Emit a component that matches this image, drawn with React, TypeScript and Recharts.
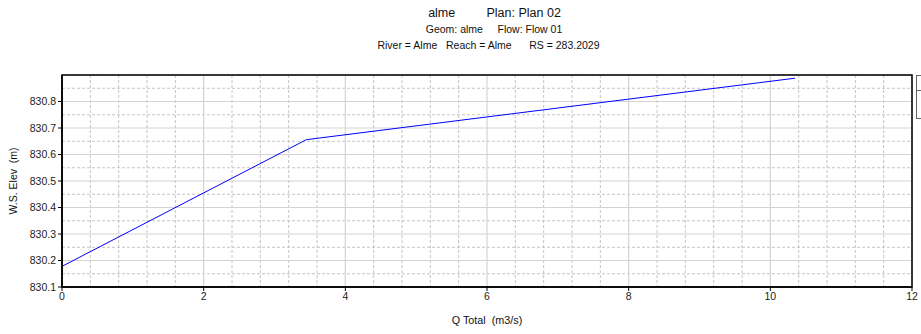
import React from 'react';
import { LineChart, Line, XAxis, YAxis, CartesianGrid, ReferenceArea } from 'recharts';

// profile values
const qTotal = [0, 3.45, 10.35];
const wsElev = [830.178, 830.656, 830.888];

const xTicks = [0, 2, 4, 6, 8, 10, 12];
const xMinorTicks = [0.4, 0.8, 1.2, 1.6, 2.4, 2.8, 3.2, 3.6, 4.4, 4.8, 5.2, 5.6, 6.4, 6.8, 7.2, 7.6, 8.4, 8.8, 9.2, 9.6, 10.4, 10.8, 11.2, 11.6];
const yTicks = [830.1, 830.2, 830.3, 830.4, 830.5, 830.6, 830.7, 830.8];
const yMinorTicks = [830.15, 830.25, 830.35, 830.45, 830.55, 830.65, 830.75, 830.85];

const data = qTotal.map((q, i) => ({ q, ws: wsElev[i] }));

const font = '"Liberation Sans", Arial, sans-serif';
const tickStyle = { fill: '#222', fontSize: 10.5, fontFamily: font };
const blank = () => '';

export default function App() {
  return (
    <div style={{ position: 'absolute', left: 0, top: 0, width: 921, height: 334, background: '#fff', fontFamily: font, color: '#111', overflow: 'hidden' }}>
      <div style={{ position: 'absolute', top: 6, left: 0, width: 989, textAlign: 'center', fontSize: 12.5, whiteSpace: 'pre' }}>
        {'alme         Plan: Plan 02'}
      </div>
      <div style={{ position: 'absolute', top: 23, left: 0, width: 988, textAlign: 'center', fontSize: 10.5, whiteSpace: 'pre' }}>
        {'Geom: alme     Flow: Flow 01'}
      </div>
      <div style={{ position: 'absolute', top: 39, left: 0, width: 977, textAlign: 'center', fontSize: 10.5, whiteSpace: 'pre' }}>
        {'River = Alme   Reach = Alme      RS = 283.2029'}
      </div>

      <LineChart width={921} height={334} data={data} margin={{ top: 75, right: 9, bottom: 0, left: 0 }} style={{ position: 'absolute', left: 0, top: 0 }}>
        <CartesianGrid xAxisId="minor" yAxisId="minor" stroke="#c4c4c4" strokeDasharray="3 2" />
        <CartesianGrid stroke="#d4d4d4" strokeWidth={1.2} />
        <XAxis xAxisId="minor" type="number" dataKey="q" domain={[0, 12]} ticks={xMinorTicks} height={0} axisLine={false} tickSize={4} tickLine={{ stroke: '#000' }} tickFormatter={blank} allowDataOverflow />
        <YAxis yAxisId="minor" type="number" domain={[830.1, 830.9]} ticks={yMinorTicks} width={0} axisLine={false} tickSize={4} tickLine={{ stroke: '#000' }} tickFormatter={blank} allowDataOverflow />
        <XAxis type="number" dataKey="q" domain={[0, 12]} ticks={xTicks} height={47} interval={0} tickSize={4} tick={tickStyle} axisLine={{ stroke: '#000', strokeWidth: 1.5 }} tickLine={{ stroke: '#000' }} allowDataOverflow />
        <YAxis type="number" domain={[830.1, 830.9]} ticks={yTicks} width={62} interval={0} tickSize={4} tick={tickStyle} axisLine={{ stroke: '#000', strokeWidth: 1.5 }} tickLine={{ stroke: '#000' }} tickFormatter={(v: number) => v.toFixed(1)} allowDataOverflow />
        <Line type="linear" dataKey="ws" stroke="#0000ff" strokeWidth={1} dot={false} isAnimationActive={false} />
        <ReferenceArea x1={0} x2={12} y1={830.1} y2={830.9} fill="none" stroke="#000" strokeWidth={1.5} fillOpacity={0} />
      </LineChart>

      <div style={{ position: 'absolute', left: 5, top: 181, width: 0, height: 0 }}>
        <div style={{ position: 'absolute', transform: 'translate(-50%, -50%) rotate(-90deg)', left: 8, top: 0, fontSize: 10.5, whiteSpace: 'pre' }}>
          {'W.S. Elev  (m)'}
        </div>
      </div>
      <div style={{ position: 'absolute', top: 314, left: 0, width: 974, textAlign: 'center', fontSize: 10.8, whiteSpace: 'pre' }}>
        {'Q Total  (m3/s)'}
      </div>

      <div style={{ position: 'absolute', left: 916, top: 75, width: 20, height: 44, border: '1.5px solid #666', boxSizing: 'border-box' }}>
        <div style={{ position: 'absolute', left: 0, right: 0, top: 14, borderTop: '1px solid #666' }} />
      </div>
    </div>
  );
}
